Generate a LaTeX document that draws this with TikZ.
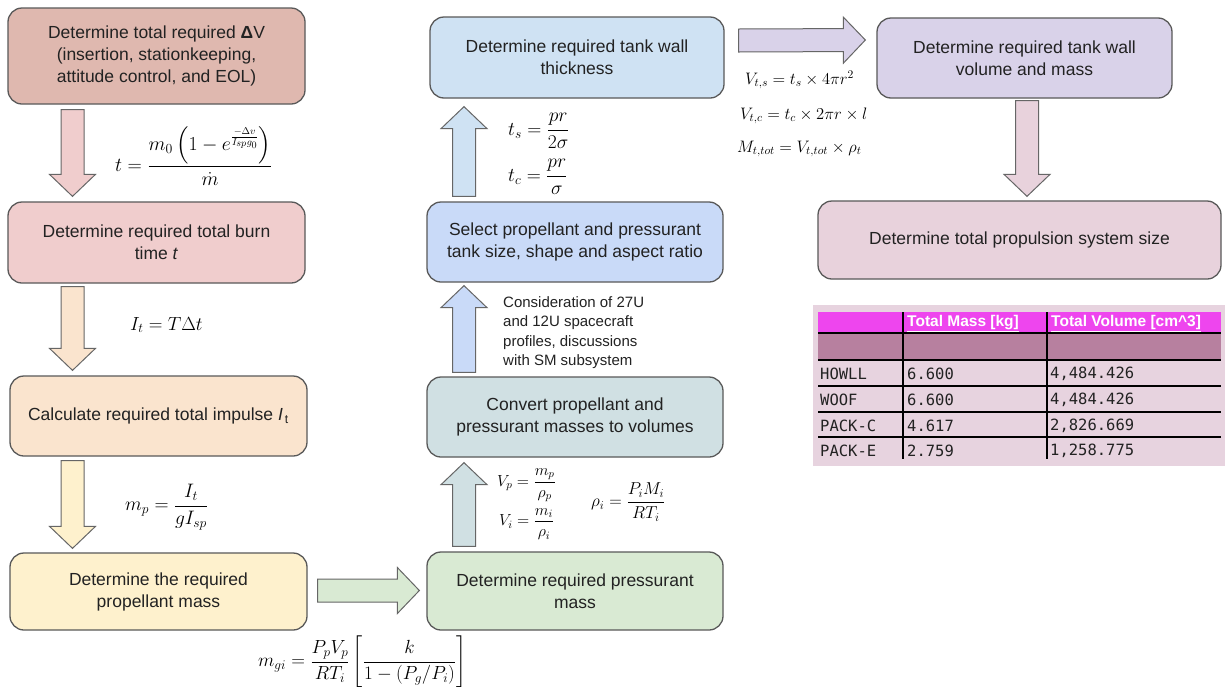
\RequirePackage{fix-cm}
\documentclass[tikz,border=0pt]{standalone}
\usepackage[no-math]{fontspec}
\setmainfont{Liberation Sans}
\newfontfamily\tblmono{DejaVu Sans Mono}
\usepackage{amsmath}
\usetikzlibrary{calc}

\definecolor{cB1}{HTML}{DFB8AF}
\definecolor{cB2}{HTML}{F0CDCD}
\definecolor{cB3}{HTML}{FAE4CE}
\definecolor{cB4}{HTML}{FEF1CD}
\definecolor{cB5}{HTML}{D9EAD3}
\definecolor{cB6}{HTML}{D0E0E3}
\definecolor{cB7}{HTML}{C9DAF8}
\definecolor{cB8}{HTML}{CFE2F3}
\definecolor{cB9}{HTML}{D9D2E9}
\definecolor{cB10}{HTML}{E8D2DC}
\definecolor{boxline}{HTML}{595959}
\definecolor{arrline}{HTML}{666666}
\definecolor{txt}{HTML}{222222}
\definecolor{tblbg}{HTML}{E7D3DF}
\definecolor{tblhead}{HTML}{EE45EE}
\definecolor{tblsub}{HTML}{B7809F}

\newcommand{\boxfont}{\fontsize{17.5}{22}\selectfont}
\newcommand{\notefont}{\fontsize{15}{19.5}\selectfont}
\newcommand{\eqsize}[1]{\fontsize{#1}{#1}\selectfont}

% filled block arrow from point #2 to point #3
\newcommand{\blockarrow}[3]{%
  \path #2 coordinate (bas) #3 coordinate (bae);
  \coordinate (bah) at ($(bae)!22pt!(bas)$);
  \draw[arrowline, fill=#1]
    ($(bas)!11.5pt!90:(bae)$) -- ($(bah)!11.5pt!-90:(bas)$) --
    ($(bah)!23pt!-90:(bas)$) -- (bae) --
    ($(bah)!23pt!90:(bas)$) -- ($(bah)!11.5pt!90:(bas)$) --
    ($(bas)!11.5pt!-90:(bae)$) -- cycle;}

\tikzset{
  box/.style={draw=boxline, line width=1.3pt, rounded corners=14pt,
    align=center, text=txt, font=\boxfont, inner sep=0pt},
  arrowline/.style={draw=arrline, line width=1pt, line join=miter},
  eq/.style={inner sep=0pt, anchor=west, text=black, font=\eqsize{#1}},
  hdr/.style={inner sep=0pt, anchor=west, text=white,
    font=\fontsize{15.5}{18}\selectfont\bfseries},
  cell/.style={inner sep=0pt, anchor=west, text=txt,
    font=\tblmono\fontsize{15.5}{18}\selectfont},
  rule/.style={draw=black, line width=1.5pt},
}

\begin{document}
\begin{tikzpicture}[x=1pt,y=-1pt]
\useasboundingbox (0,0) rectangle (1225,686);
\fill[white] (0,0) rectangle (1225,686);

% columns of the vertical block arrows
\coordinate (colL) at (72.5,0);
\coordinate (colM) at (464,0);
\coordinate (colR) at (1027,0);

% process steps
\node[box, fill=cB1, minimum width=297pt, minimum height=96pt] (b1) at (156.5,56)
  {Determine total required \textbf{Δ}V\\(insertion, stationkeeping,\\attitude control, and EOL)};
\node[box, fill=cB2, minimum width=297pt, minimum height=81pt] (b2) at (156.5,242.5)
  {Determine required total burn\\time \textit{t}};
\node[box, fill=cB3, minimum width=297pt, minimum height=80pt] (b3) at (158.5,416)
  {Calculate required total impulse \textit{I}\textsubscript{\,t}};
\node[box, fill=cB4, minimum width=297pt, minimum height=77pt] (b4) at (158.5,591.5)
  {Determine the required\\propellant mass};
\node[box, fill=cB5, minimum width=296pt, minimum height=78pt] (b5) at (575,591)
  {Determine required pressurant\\mass};
\node[box, fill=cB6, minimum width=296pt, minimum height=80pt] (b6) at (575,417)
  {Convert propellant and\\pressurant masses to volumes};
\node[box, fill=cB7, minimum width=296pt, minimum height=80pt] (b7) at (575,242)
  {Select propellant and pressurant\\tank size, shape and aspect ratio};
\node[box, fill=cB8, minimum width=294pt, minimum height=81pt] (b8) at (577,57.5)
  {Determine required tank wall\\thickness};
\node[box, fill=cB9, minimum width=295pt, minimum height=80pt] (b9) at (1024.5,58)
  {Determine required tank wall\\volume and mass};
\node[box, fill=cB10, minimum width=403pt, minimum height=78pt] (b10) at (1019.5,240)
  {Determine total propulsion system size};

% block arrows between the steps
\blockarrow{cB2}{($(b1.south -| colL)+(0,5)$)}{($(b2.north -| colL)+(0,-5)$)}
\blockarrow{cB3}{($(b2.south -| colL)+(0,3)$)}{($(b3.north -| colL)+(0,-5)$)}
\blockarrow{cB4}{($(b3.south -| colL)+(0,4)$)}{($(b4.north -| colL)+(0,-4)$)}
\blockarrow{cB5}{($(b4.east)+(10,-1)$)}{($(b5.west)+(-7,-0.5)$)}
\blockarrow{cB6}{($(b5.north -| colM)+(0,-5)$)}{($(b6.south -| colM)+(0,5)$)}
\blockarrow{cB7}{($(b6.north -| colM)+(0,-4)$)}{($(b7.south -| colM)+(0,3)$)}
\blockarrow{cB8}{($(b7.north -| colM)+(0,-5)$)}{($(b8.south -| colM)+(0,8)$)}
\blockarrow{cB9}{($(b8.east)+(14,-17)$)}{($(b9.west)+(-11,-18)$)}
\blockarrow{cB10}{($(b9.south -| colR)+(0,2)$)}{($(b10.north -| colR)+(0,-4)$)}

% relations used at each step
\node[eq=19.8] (eqt) at (115,156)
  {$t = \dfrac{m_0\left(1 - e^{\frac{-\Delta v}{I_{sp} g_0}}\right)}{\dot{m}}$};
\node[eq=19] (eqit) at (130,325) {$I_t = T\Delta t$};
\node[eq=19.5] (eqmp) at (125,507) {$m_p = \dfrac{I_t}{g I_{sp}}$};
\node[eq=19] (eqmgi) at (258,662)
  {$m_{gi} = \dfrac{P_p V_p}{R T_i}\left[\dfrac{k}{1-(P_g/P_i)}\right]$};
\node[eq=16] (eqvp) at (497,485) {$V_p = \dfrac{m_p}{\rho_p}$};
\node[eq=16] (eqvi) at (499,524) {$V_i = \dfrac{m_i}{\rho_i}$};
\node[eq=17.3] (eqrho) at (591,502) {$\rho_i = \dfrac{P_i M_i}{R T_i}$};
\node[eq=19.5] (eqts) at (508,131) {$t_s = \dfrac{pr}{2\sigma}$};
\node[eq=19.5] (eqtc) at (508,177) {$t_c = \dfrac{pr}{\sigma}$};
\node[eq=16.6] (eqvts) at (745,80) {$V_{t,s} = t_s \times 4\pi r^2$};
\node[eq=16.6] (eqvtc) at (740,116) {$V_{t,c} = t_c \times 2\pi r \times l$};
\node[eq=16.6] (eqmtot) at (737,149) {$M_{t,tot} = V_{t,tot} \times \rho_t$};

\node[inner sep=0pt, anchor=north west, align=left, text=txt, font=\notefont] (note) at (503,296)
  {Consideration of 27U\\and 12U spacecraft\\profiles, discussions\\with SM subsystem};

% results table
\fill[tblbg] (813,305) rectangle (1225,466);
\fill[tblhead] (818,312) rectangle (1221,333);
\fill[tblsub] (818,333) rectangle (1221,360);
\draw[rule, line width=2pt] (818,333) -- (1221,333);
\draw[rule, line width=2pt] (818,360) -- (1221,360);
\draw[rule] (818,386) -- (1221,386);
\draw[rule] (818,412) -- (1221,412);
\draw[rule] (818,437) -- (1221,437);
\draw[rule] (903,312) -- (903,459);
\draw[rule] (1047,312) -- (1047,459);

\node[hdr] (hmass) at (907,323.5) {\underline{Total Mass [kg]}};
\node[hdr] (hvol) at (1051,323.5) {\underline{Total Volume [cm\^{}3]}};

\node[cell] (r1a) at (820,374) {HOWLL};
\node[cell] (r1b) at (907,374) {6.600};
\node[cell] (r1c) at (1050,374) {4,484.426};
\node[cell] (r2a) at (820,400) {WOOF};
\node[cell] (r2b) at (907,400) {6.600};
\node[cell] (r2c) at (1050,400) {4,484.426};
\node[cell] (r3a) at (820,426) {PACK-C};
\node[cell] (r3b) at (907,426) {4.617};
\node[cell] (r3c) at (1050,426) {2,826.669};
\node[cell] (r4a) at (820,451) {PACK-E};
\node[cell] (r4b) at (907,451) {2.759};
\node[cell] (r4c) at (1050,451) {1,258.775};
\end{tikzpicture}
\end{document}
